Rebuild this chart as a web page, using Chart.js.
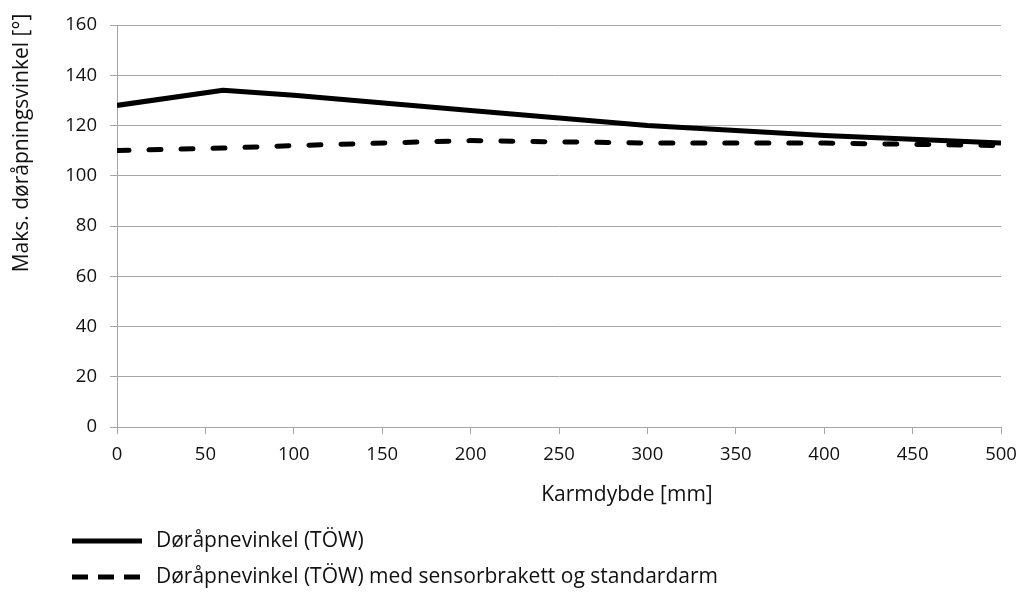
<!DOCTYPE html>
<html>
<head>
<meta charset="utf-8">
<script src="https://cdn.jsdelivr.net/npm/chart.js@4/dist/chart.umd.min.js"></script>
<style>
  html, body { margin: 0; padding: 0; background: #fff; }
  #wrap { width: 1021px; height: 594px; }
</style>
</head>
<body>
<div id="wrap"><canvas id="c" width="1021" height="594"></canvas></div>
<script>
const depths = [0, 60, 100, 200, 300, 400, 500];
const solidValues = [128, 134, 132, 126, 120, 116, 113];
const dashedValues = [110, 111, 112, 114, 113, 113, 112];
const seriesLabels = ['Døråpnevinkel (TÖW)', 'Døråpnevinkel (TÖW) med sensorbrakett og standardarm'];
const xTitle = 'Karmdybde [mm]';
const yTitle = 'Maks. døråpningsvinkel [°]';

const FONT = '"Open Sans", "DejaVu Sans", sans-serif';
const TICK_SIZE = 18.5;
const TEXT_SIZE = 21;
const GRID = '#a6a6a6';

Chart.defaults.font.family = FONT;
Chart.defaults.font.size = TICK_SIZE;
Chart.defaults.color = '#111';

const customText = {
  id: 'customText',
  afterDraw(chart) {
    const ctx = chart.ctx;
    ctx.save();
    ctx.fillStyle = '#111';
    ctx.font = TEXT_SIZE + 'px ' + FONT;
    ctx.textBaseline = 'middle';
    // axis titles
    ctx.textAlign = 'center';
    ctx.fillText(xTitle, 627, 495);
    ctx.save();
    ctx.translate(22, 143);
    ctx.rotate(-Math.PI / 2);
    ctx.fillText(yTitle, 0, 0);
    ctx.restore();
    // legend
    ctx.textAlign = 'left';
    const rows = [541, 577];
    chart.data.datasets.forEach((ds, i) => {
      const y = rows[i];
      ctx.save();
      ctx.strokeStyle = ds.borderColor;
      ctx.lineWidth = 5;
      ctx.lineCap = 'butt';
      ctx.setLineDash(i === 1 ? [16, 10] : []);
      ctx.beginPath();
      ctx.moveTo(72, y);
      ctx.lineTo(142, y);
      ctx.stroke();
      ctx.restore();
      ctx.fillText(ds.label, 156, y);
    });
    ctx.restore();
  }
};

new Chart(document.getElementById('c'), {
  type: 'line',
  data: {
    datasets: [
      {
        label: seriesLabels[0],
        data: depths.map((x, i) => ({ x, y: solidValues[i] })),
        borderColor: '#000',
        borderWidth: 5,
        pointRadius: 0,
        tension: 0,
        borderCapStyle: 'butt',
        borderJoinStyle: 'round'
      },
      {
        label: seriesLabels[1],
        data: depths.map((x, i) => ({ x, y: dashedValues[i] })),
        borderColor: '#000',
        borderWidth: 5,
        borderDash: [12, 20],
        borderCapStyle: 'round',
        pointRadius: 0,
        tension: 0
      }
    ]
  },
  options: {
    responsive: false,
    animation: false,
    layout: { padding: { top: 25, right: 20, left: 0, bottom: 0 } },
    plugins: { legend: { display: false }, tooltip: { enabled: false } },
    scales: {
      x: {
        type: 'linear',
        min: 0, max: 500,
        ticks: { stepSize: 50, padding: 10, color: '#111', maxRotation: 0 },
        grid: { drawOnChartArea: false, color: GRID, tickLength: 7 },
        border: { color: GRID, width: 1 },
        afterFit(scale) { scale.height = 167; scale.paddingRight = 0; }
      },
      y: {
        min: 0, max: 160,
        ticks: { stepSize: 20, padding: 13, color: '#111' },
        grid: { color: GRID, tickLength: 7 },
        border: { color: GRID, width: 1 },
        afterFit(scale) { scale.width = 117; }
      }
    }
  },
  plugins: [customText]
});
</script>
</body>
</html>
